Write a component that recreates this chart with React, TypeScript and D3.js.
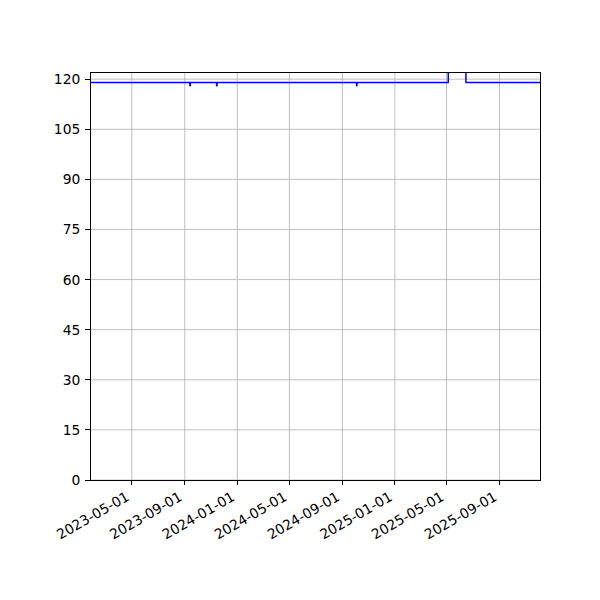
import React from "react";
import * as d3 from "d3";

// change points of the series (value holds until the next date)
const dates: string[] = [
  "2023-01-24", "2023-09-13", "2023-09-14", "2023-11-14", "2023-11-15",
  "2024-10-04", "2024-10-05", "2025-05-05", "2025-06-15", "2025-12-04",
];
const values: number[] = [119, 118, 119, 118, 119, 118, 119, 124, 119, 119];

const xTickLabels: string[] = [
  "2023-05-01", "2023-09-01", "2024-01-01", "2024-05-01",
  "2024-09-01", "2025-01-01", "2025-05-01", "2025-09-01",
];
const yTicks: number[] = [0, 15, 30, 45, 60, 75, 90, 105, 120];
const yLimits: number[] = [0, 122.15];

const W = 600, H = 600;
const L = 90, R = 540, T = 72, B = 480;
const FONT = "DejaVu Sans";
const FS = 13.89;

export default function App() {
  const parse = d3.utcParse("%Y-%m-%d");
  const pts = dates.map((d, i) => ({ t: parse(d)!, v: values[i] }));
  const x = d3.scaleUtc().domain([pts[0].t, pts[pts.length - 1].t]).range([L, R]);
  const y = d3.scaleLinear().domain(yLimits).range([B, T]);
  const line = d3.line<{ t: Date; v: number }>()
    .x((d) => x(d.t))
    .y((d) => y(d.v))
    .curve(d3.curveStepAfter);
  const xt = xTickLabels.map((s) => ({ s, px: x(parse(s)!) }));
  return (
    <svg width={W} height={H} style={{ position: "absolute", left: 0, top: 0, background: "#fff" }}
      fontFamily={FONT}>
      <defs>
        <clipPath id="ax">
          <rect x={L} y={T} width={R - L} height={B - T} />
        </clipPath>
      </defs>
      <rect x={0} y={0} width={W} height={H} fill="#fff" />
      {/* grid */}
      {xt.map((d) => (
        <line key={"gx" + d.s} x1={d.px} x2={d.px} y1={T} y2={B} stroke="#b0b0b0" strokeWidth={0.8} />
      ))}
      {yTicks.map((v) => (
        <line key={"gy" + v} x1={L} x2={R} y1={y(v)} y2={y(v)} stroke="#b0b0b0" strokeWidth={0.8} />
      ))}
      <path d={line(pts)!} fill="none" stroke="#0000ff" strokeWidth={1.5} clipPath="url(#ax)"
        strokeLinejoin="round" />
      {/* spines */}
      <rect x={L} y={T} width={R - L} height={B - T} fill="none" stroke="#000" strokeWidth={1}
        shapeRendering="crispEdges" />
      {/* y ticks */}
      {yTicks.map((v) => (
        <g key={"ty" + v}>
          <line x1={L - 4.86} x2={L} y1={y(v)} y2={y(v)} stroke="#000" strokeWidth={1}
            shapeRendering="crispEdges" />
          <text x={L - 9.7} y={y(v)} dy="0.36em" textAnchor="end" fontSize={FS} fill="#000">{v}</text>
        </g>
      ))}
      {/* x ticks */}
      {xt.map((d) => (
        <g key={"tx" + d.s}>
          <line x1={d.px} x2={d.px} y1={B} y2={B + 4.86} stroke="#000" strokeWidth={1}
            shapeRendering="crispEdges" />
          <text transform={`translate(${d.px - 1.6},${B + 19.5}) rotate(-30)`} textAnchor="end"
            fontSize={FS} fill="#000">{d.s}</text>
        </g>
      ))}
    </svg>
  );
}
